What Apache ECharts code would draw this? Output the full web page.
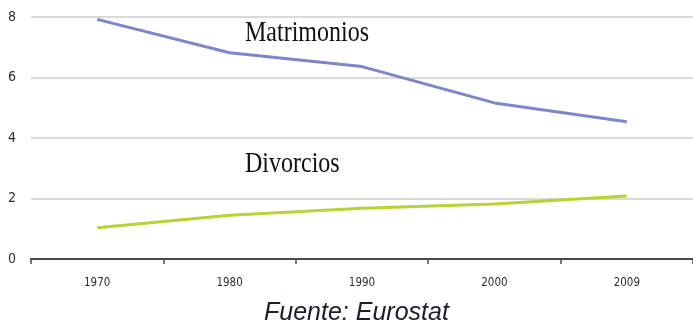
<!DOCTYPE html>
<html>
<head>
<meta charset="utf-8">
<script src="https://cdn.jsdelivr.net/npm/echarts@6/dist/echarts.min.js"></script>
<style>
  html, body { margin: 0; padding: 0; background: #fff; }
  #chart { width: 693px; height: 327px; }
</style>
</head>
<body>
<div id="chart"></div>
<script>
// Marriage and divorce rates (per 1000 inhabitants)
const years = ['1970', '1980', '1990', '2000', '2009'];
const matrimonios = [7.92, 6.82, 6.36, 5.16, 4.54];
const divorcios = [1.03, 1.45, 1.68, 1.82, 2.08];
const yTicks = [0, 2, 4, 6, 8];

const narrow = "'Liberation Sans Narrow', 'DejaVu Sans Condensed', 'Liberation Sans', sans-serif";

const chart = echarts.init(document.getElementById('chart'), null, { renderer: 'canvas' });

chart.setOption({
  animation: false,
  backgroundColor: '#ffffff',
  grid: { left: 31, top: 17, width: 665, height: 242, containLabel: false },
  xAxis: {
    type: 'category',
    data: years,
    boundaryGap: true,
    axisLine: { show: true, lineStyle: { color: '#4a4a4a', width: 2 } },
    axisTick: { show: true, length: 5, lineStyle: { color: '#4a4a4a', width: 1.5 } },
    axisLabel: { margin: 18, fontFamily: narrow, fontSize: 11.5, color: '#2e2e2e' },
    splitLine: { show: false }
  },
  yAxis: {
    type: 'value',
    min: yTicks[0],
    max: yTicks[yTicks.length - 1],
    interval: yTicks[1] - yTicks[0],
    axisLine: { show: false },
    axisTick: { show: false },
    axisLabel: { margin: 15, fontFamily: narrow, fontSize: 14, color: '#2e2e2e' },
    splitLine: { show: true, lineStyle: { color: '#d9d9d9', width: 2 } }
  },
  series: [
    {
      name: 'Matrimonios',
      type: 'line',
      data: matrimonios,
      symbol: 'none',
      lineStyle: { color: '#7c86ca', width: 3 },
      z: 3
    },
    {
      name: 'Divorcios',
      type: 'line',
      data: divorcios,
      symbol: 'none',
      lineStyle: { color: '#b6d432', width: 3 },
      z: 3
    }
  ],
  graphic: [
    {
      type: 'text',
      x: 245, y: 48, scaleX: 0.8,
      style: {
        text: 'Matrimonios',
        font: "30px 'Liberation Serif', 'DejaVu Serif', serif",
        fill: '#111111',
        textVerticalAlign: 'bottom'
      }
    },
    {
      type: 'text',
      x: 245, y: 179, scaleX: 0.8,
      style: {
        text: 'Divorcios',
        font: "30px 'Liberation Serif', 'DejaVu Serif', serif",
        fill: '#111111',
        textVerticalAlign: 'bottom'
      }
    },
    {
      type: 'text',
      x: 264, y: 326,
      style: {
        text: 'Fuente: Eurostat',
        font: "italic 25px 'Liberation Sans', Arial, sans-serif",
        fill: '#1c1c2c',
        textVerticalAlign: 'bottom'
      }
    }
  ]
});
</script>
</body>
</html>
